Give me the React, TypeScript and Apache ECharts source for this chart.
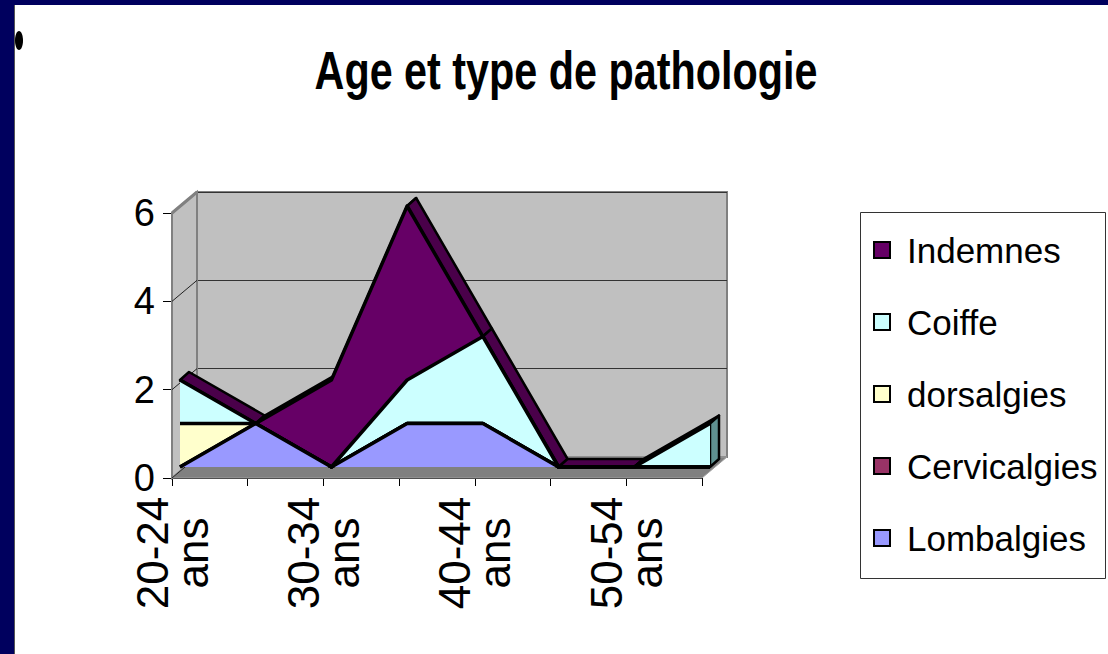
import React, { useEffect, useRef } from "react";
import * as echarts from "echarts";

// ---- data ----
const categories = ["20-24 ans", "25-29 ans", "30-34 ans", "35-39 ans", "40-44 ans", "45-49 ans", "50-54 ans", "55-59 ans"];
const lombalgies = [0, 1, 0, 1, 1, 0, 0, 0];
const cervicalgies = [0, 0, 0, 0, 0, 0, 0, 0];
const dorsalgies = [1, 0, 0, 0, 0, 0, 0, 0];
const coiffe = [1, 0, 0, 1, 2, 0, 0, 1];
const indemnes = [0, 0, 2, 4, 0, 0, 0, 0];
const legendOrder = ["Indemnes", "Coiffe", "dorsalgies", "Cervicalgies", "Lombalgies"];
const yMin = 0;
const yMax = 6;
const yStep = 2;
const titleText = "Age et type de pathologie";

// stacked from bottom to top
const stackDefs = [
  { name: "Lombalgies", data: lombalgies, color: "#9999FF", dark: "#6B6BB3" },
  { name: "Cervicalgies", data: cervicalgies, color: "#993366", dark: "#6B2447" },
  { name: "dorsalgies", data: dorsalgies, color: "#FFFFCC", dark: "#B3B38F" },
  { name: "Coiffe", data: coiffe, color: "#CCFFFF", dark: "#5F9090" },
  { name: "Indemnes", data: indemnes, color: "#660066", dark: "#4A004A" },
];

// ---- layout ----
const W = 1108;
const H = 654;
const FRONT = { left: 172, top: 213, width: 530, height: 265 };
const DATA = { left: 180, top: 206, width: 530, height: 261 };
const BACK = { left: 197, top: 192, width: 530, height: 265 };
const DX = 9;
const DY = -8;
const SANS = "'Liberation Sans', Arial, sans-serif";

export default function App() {
  const ref = useRef<HTMLDivElement>(null);

  useEffect(() => {
    if (!ref.current) return;
    const chart = echarts.init(ref.current, null, { renderer: "svg" });
    const n = categories.length;
    const cum: number[][] = [];
    let run = new Array(n).fill(0);
    stackDefs.forEach((s) => {
      run = run.map((v, i) => v + s.data[i]);
      cum.push(run.slice());
    });
    const totals = cum[cum.length - 1];
    const topDark = stackDefs[stackDefs.length - 1].dark;

    const yFront = (v: number) => FRONT.top + FRONT.height * (1 - (v - yMin) / (yMax - yMin));
    const wallTicks: number[] = [];
    for (let v = yMin; v <= yMax; v += yStep) wallTicks.push(v);
    const bx = BACK.left - FRONT.left;
    const by = BACK.top - FRONT.top;
    const fBottom = FRONT.top + FRONT.height;
    const fRight = FRONT.left + FRONT.width;

    const graphic: any[] = [
      // slide frame
      { type: "rect", shape: { x: 0, y: 0, width: W, height: H }, style: { fill: "#FFFFFF" }, z: -100 },
      { type: "rect", shape: { x: 0, y: 0, width: 14, height: H }, style: { fill: "#00005E" }, z: 50 },
      { type: "rect", shape: { x: 0, y: 0, width: W, height: 5 }, style: { fill: "#00005E" }, z: 50 },
      { type: "line", shape: { x1: 14.5, y1: 5, x2: 14.5, y2: H }, style: { stroke: "#555555", lineWidth: 1 }, z: 50 },
      { type: "ellipse", shape: { cx: 19, cy: 40.5, rx: 4, ry: 9.5 }, style: { fill: "#000" }, z: 50 },
      {
        type: "text",
        x: 566,
        y: 71,
        scaleX: 0.78,
        style: { text: titleText, fontFamily: SANS, fontWeight: "bold", fontSize: 53, fill: "#000", align: "center", verticalAlign: "middle" },
        z: 50,
      },
      // left wall
      {
        type: "polygon",
        shape: { points: [[FRONT.left, FRONT.top], [FRONT.left + bx, FRONT.top + by], [FRONT.left + bx, fBottom + by], [FRONT.left, fBottom]] },
        style: { fill: "#C0C0C0", stroke: "#808080", lineWidth: 2 },
        z: 1,
      },
      // floor
      {
        type: "polygon",
        shape: { points: [[FRONT.left, fBottom], [fRight, fBottom], [fRight + bx, fBottom + by], [FRONT.left + bx, fBottom + by]] },
        style: { fill: "#808080", stroke: "#A0A0A0", lineWidth: 1 },
        z: 1,
      },
      // legend box
      { type: "rect", shape: { x: 860.5, y: 212.5, width: 245, height: 366 }, style: { fill: "#FFFFFF", stroke: "#333333", lineWidth: 1 }, z: 0 },
    ];
    wallTicks.forEach((v) => {
      graphic.push({
        type: "line",
        shape: { x1: FRONT.left, y1: yFront(v), x2: FRONT.left + bx, y2: yFront(v) + by },
        style: { stroke: v === yMax ? "#808080" : "#222222", lineWidth: v === yMax ? 3 : 1 },
        z: 2,
      });
    });

    const hiddenCat = (gridIndex: number) => ({
      type: "category",
      gridIndex,
      data: categories,
      boundaryGap: false,
      show: false,
    });
    const hiddenVal = (gridIndex: number, split: boolean) => ({
      type: "value",
      gridIndex,
      min: yMin,
      max: yMax,
      interval: yStep,
      axisLine: { show: false },
      axisTick: { show: false },
      axisLabel: { show: false },
      splitLine: { show: split, lineStyle: { color: "#333333", width: 1 } },
    });

    const areaSeries = stackDefs.map((s, k) => ({
      type: "line",
      name: s.name,
      xAxisIndex: 1,
      yAxisIndex: 1,
      stack: "total",
      data: s.data,
      symbol: "none",
      clip: false,
      z: 10 - k,
      color: s.color,
      lineStyle: { color: "#000", width: 3.5, join: "round" },
      areaStyle: { color: s.color, opacity: 1 },
      emphasis: { disabled: true },
    }));

    const ribbon = {
      type: "custom",
      name: "surface",
      xAxisIndex: 1,
      yAxisIndex: 1,
      z: 3,
      clip: false,
      silent: true,
      data: totals.map((t, i) => [i, t]),
      renderItem: (params: any, api: any) => {
        const i = params.dataIndex;
        const children: any[] = [];
        if (i < n - 1) {
          const a = api.coord([i, totals[i]]);
          const b = api.coord([i + 1, totals[i + 1]]);
          children.push({
            type: "polygon",
            shape: { points: [a, b, [b[0] + DX, b[1] + DY], [a[0] + DX, a[1] + DY]] },
            style: { fill: topDark, stroke: "#000", lineWidth: 2.5, lineJoin: "round" },
          });
        } else {
          stackDefs.forEach((s, k) => {
            const lo = k === 0 ? 0 : cum[k - 1][i];
            const hi = cum[k][i];
            if (hi > lo) {
              const p = api.coord([i, lo]);
              const q = api.coord([i, hi]);
              children.push({
                type: "polygon",
                shape: { points: [p, q, [q[0] + DX, q[1] + DY], [p[0] + DX, p[1] + DY]] },
                style: { fill: s.dark, stroke: "#000", lineWidth: 2.5, lineJoin: "round" },
              });
            }
          });
        }
        return { type: "group", children };
      },
    };

    const colorOf: Record<string, string> = {};
    stackDefs.forEach((s) => (colorOf[s.name] = s.color));

    chart.setOption({
      animation: false,
      backgroundColor: "#FFFFFF",
      graphic,
      grid: [
        { ...BACK, show: true, backgroundColor: "#C0C0C0", borderColor: "#808080", borderWidth: 2, z: 0 },
        { ...DATA },
        { ...FRONT },
      ],
      xAxis: [
        hiddenCat(0),
        hiddenCat(1),
        {
          type: "category",
          gridIndex: 2,
          data: categories,
          boundaryGap: false,
          axisLine: { show: true, lineStyle: { color: "#000", width: 1 } },
          axisTick: { show: true, length: 8, interval: 0, lineStyle: { color: "#000" } },
          axisLabel: {
            interval: 1,
            rotate: 90,
            align: "center",
            verticalAlign: "middle",
            margin: 75,
            fontFamily: SANS,
            fontSize: 44,
            lineHeight: 40,
            color: "#000",
            formatter: (v: string) => v.replace(" ", "\n"),
          },
          splitLine: { show: false },
        },
      ],
      yAxis: [
        hiddenVal(0, true),
        hiddenVal(1, false),
        {
          type: "value",
          gridIndex: 2,
          min: yMin,
          max: yMax,
          interval: yStep,
          axisLine: { show: true, lineStyle: { color: "#707070", width: 2 } },
          axisTick: { show: true, length: 9, lineStyle: { color: "#000" } },
          axisLabel: { margin: 17, fontFamily: SANS, fontSize: 38, color: "#000" },
          splitLine: { show: false },
        },
      ],
      legend: {
        data: legendOrder.map((name) => ({ name, itemStyle: { color: colorOf[name] } })),
        orient: "vertical",
        left: 860,
        top: 212,
        padding: [18, 8, 18, 13],
        itemWidth: 16,
        itemHeight: 16,
        itemGap: 32,
        icon: "rect",
        selectedMode: false,
        itemStyle: { borderColor: "#000", borderWidth: 2 },
        textStyle: { fontFamily: SANS, fontSize: 35, lineHeight: 40, color: "#000", padding: [0, 0, 0, 12] },
      },
      series: [ribbon, ...areaSeries],
    });
    return () => chart.dispose();
  }, []);

  return (
    <div
      ref={ref}
      style={{ position: "absolute", left: 0, top: 0, width: W, height: H, background: "#fff" }}
    />
  );
}
